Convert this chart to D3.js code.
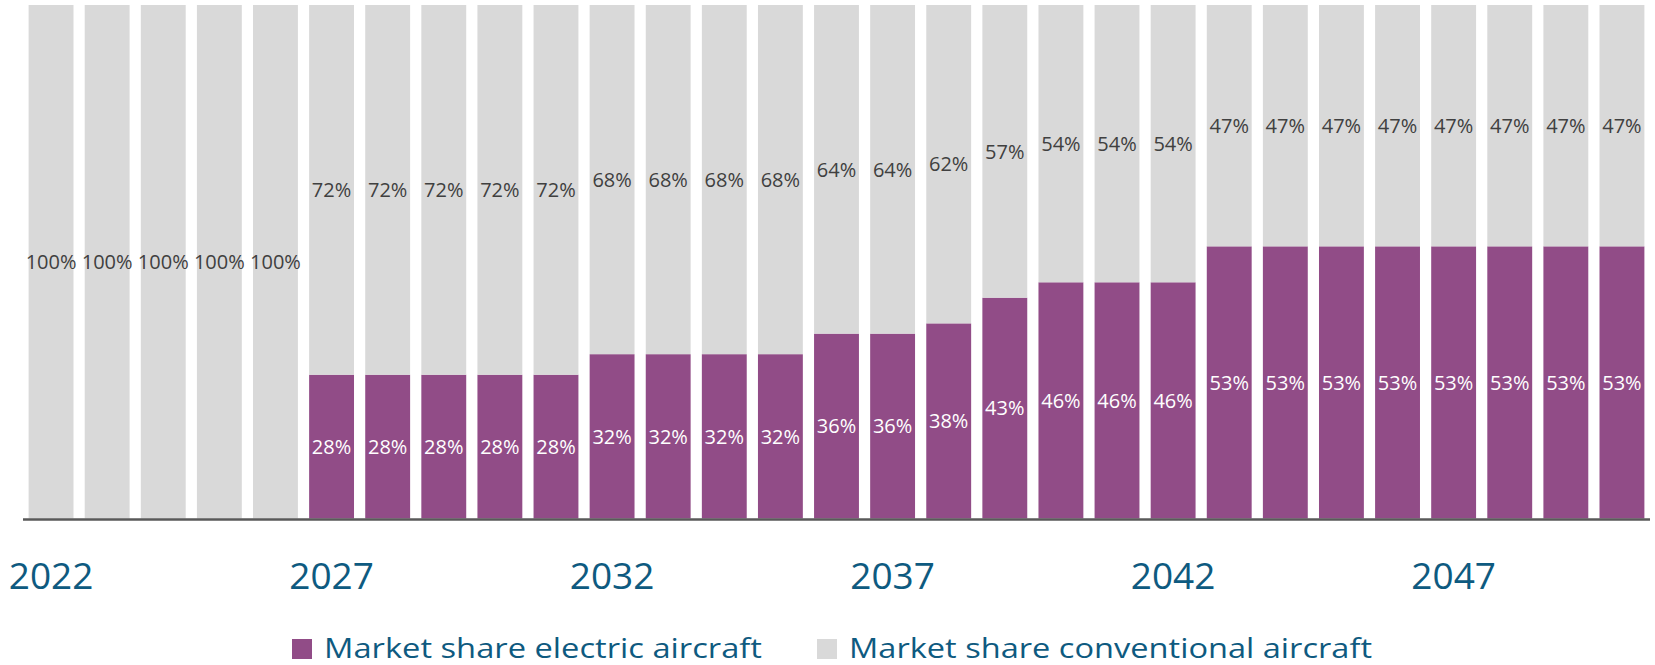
<!DOCTYPE html>
<html>
<head>
<meta charset="utf-8">
<script src="https://cdn.jsdelivr.net/npm/d3@7"></script>
<style>
  html, body { margin: 0; padding: 0; background: #ffffff; }
  svg { display: block; }
</style>
</head>
<body>
<svg id="chart" width="1655" height="665"></svg>
<script>
// Market share by year (percent)
const years = d3.range(2022, 2051);
const electricShare = [0, 0, 0, 0, 0, 28, 28, 28, 28, 28, 32, 32, 32, 32, 36, 36, 38, 43, 46, 46, 46, 53, 53, 53, 53, 53, 53, 53, 53];
const conventionalShare = [100, 100, 100, 100, 100, 72, 72, 72, 72, 72, 68, 68, 68, 68, 64, 64, 62, 57, 54, 54, 54, 47, 47, 47, 47, 47, 47, 47, 47];
const tickYears = [2022, 2027, 2032, 2037, 2042, 2047];
const seriesNames = ["Market share electric aircraft", "Market share conventional aircraft"];

const colors = { electric: "#914c87", conventional: "#d9d9d9" };
const labelFont = "'Open Sans', 'Noto Sans', sans-serif";
const blue = "#0e5a80";

const rows = years.map((y, i) => ({ year: y, electric: electricShare[i], conventional: conventionalShare[i] }));
const stack = d3.stack().keys(["electric", "conventional"]);
const layers = stack(rows);

const svg = d3.select("#chart");

const x = d3.scaleBand()
  .domain(years)
  .range([23, 1650])
  .paddingInner(0.2)
  .paddingOuter(0.1);

const y = d3.scaleLinear()
  .domain([0, 100])
  .range([518.5, 5]);

// Stacked bars
const g = svg.append("g");
layers.forEach(layer => {
  const key = layer.key;
  g.selectAll(null)
    .data(layer)
    .join("rect")
    .attr("x", d => x(d.data.year))
    .attr("width", x.bandwidth())
    .attr("y", d => y(d[1]))
    .attr("height", d => y(d[0]) - y(d[1]))
    .attr("fill", colors[key]);
});

// Value labels centred in each segment
layers.forEach(layer => {
  const key = layer.key;
  g.selectAll(null)
    .data(layer.filter(d => d.data[key] > 0))
    .join("text")
    .attr("x", d => x(d.data.year) + x.bandwidth() / 2)
    .attr("y", d => (y(d[0]) + y(d[1])) / 2)
    .attr("dy", "0.36em")
    .attr("text-anchor", "middle")
    .attr("font-family", labelFont)
    .attr("font-size", 20)
    .attr("fill", key === "electric" ? "#ffffff" : "#404040")
    .text(d => d.data[key] + "%");
});

// Baseline
svg.append("line")
  .attr("x1", 23).attr("x2", 1650)
  .attr("y1", y(0) + 1).attr("y2", y(0) + 1)
  .attr("stroke", "#595959")
  .attr("stroke-width", 2.5);

// Year axis
const xAxis = d3.axisBottom(x)
  .tickValues(tickYears)
  .tickSize(0)
  .tickPadding(0);

const axisG = svg.append("g")
  .attr("transform", `translate(0,${y(0)})`)
  .call(xAxis);
axisG.select(".domain").remove();
axisG.selectAll("text")
  .attr("y", 70)
  .attr("dy", 0)
  .attr("font-family", labelFont)
  .attr("font-size", 37)
  .attr("fill", blue);

// Legend
const legendItems = [
  { name: seriesNames[0], color: colors.electric, sx: 292, tx: 324, len: 438 },
  { name: seriesNames[1], color: colors.conventional, sx: 817, tx: 849, len: 523 }
];
const legend = svg.append("g");
legendItems.forEach(it => {
  legend.append("rect")
    .attr("x", it.sx).attr("y", 639)
    .attr("width", 20).attr("height", 20)
    .attr("fill", it.color);
  legend.append("text")
    .attr("x", it.tx).attr("y", 658)
    .attr("font-family", labelFont)
    .attr("font-size", 27)
    .attr("textLength", it.len)
    .attr("lengthAdjust", "spacingAndGlyphs")
    .attr("fill", blue)
    .text(it.name);
});
</script>
</body>
</html>
